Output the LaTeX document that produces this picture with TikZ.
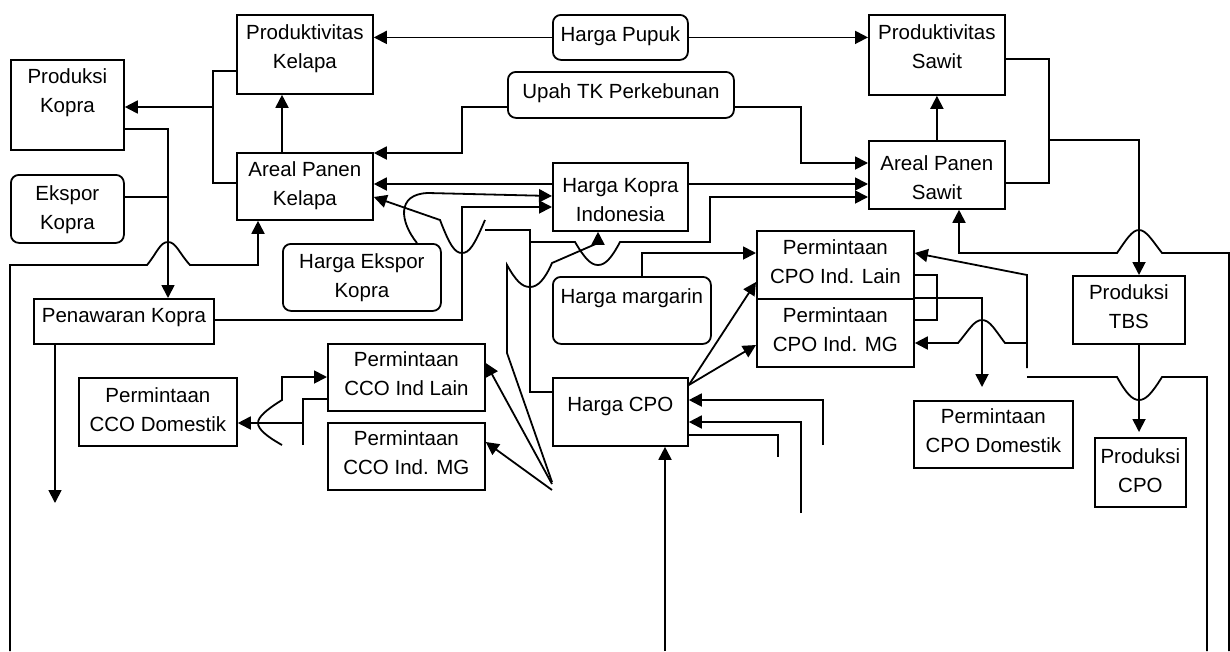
\documentclass[tikz,border=0pt]{standalone}
\usepackage{fontspec}
\setmainfont{Liberation Sans}
\usetikzlibrary{arrows.meta}

% kotak: [gaya]{nama}{x}{y}{lebar}{tinggi}{garis dasar}{teks}
\newcommand{\kotak}[8][kotak]{%
  \node[#1] (#2) at (#3,#4) {\parbox[c][#6pt][t]{#5pt}{\centering\rule{0pt}{#7pt}#8}};}

\begin{document}
\begin{tikzpicture}[x=1pt, y=-1pt, line width=1.8pt,
  kotak/.style={draw, inner sep=0pt, anchor=north west,
    font=\fontsize{20.5}{28.5}\selectfont},
  kotakbulat/.style={kotak, rounded corners=8pt},
  panah/.style={-{Triangle[length=13pt, width=13pt]}}]
  \useasboundingbox (0,0) rectangle (1230,651);

  % kelapa
  \kotak{pko}{10}{59}{113}{90}{24}{Produksi\\Kopra}
  \kotak[kotakbulat]{eko}{10}{174}{113}{68}{26}{Ekspor\\Kopra}
  \kotak{pkl}{236}{14}{136}{79}{25}{Produktivitas\\Kelapa}
  \kotak{apk}{236}{152}{136}{67}{24}{Areal Panen\\Kelapa}
  \kotak[kotakbulat]{hek}{282}{243}{158}{67}{25}{Harga Ekspor\\Kopra}
  \kotak{pnk}{33}{298}{180}{45}{24}{Penawaran Kopra}
  \kotak{ccl}{327}{343}{157}{67}{23}{Permintaan\\CCO Ind Lain}
  \kotak{ccm}{327}{422}{157}{67}{23}{Permintaan\\CCO Ind. MG}
  \kotak{ccd}{78}{377}{158}{68}{25}{Permintaan\\CCO Domestik}
  % harga
  \kotak[kotakbulat]{hpp}{552}{14}{135}{45}{27}{Harga Pupuk}
  \kotak[kotakbulat]{utk}{507}{71}{226}{46}{27}{Upah TK Perkebunan}
  \kotak{hki}{552}{162}{135}{68}{30}{Harga Kopra\\Indonesia}
  \kotak[kotakbulat]{hmg}{552}{276}{158}{67}{27}{Harga margarin}
  \kotak{hcp}{552}{377}{135}{68}{34}{Harga CPO}
  % sawit
  \kotak{pcl}{756}{230}{157}{68}{24}{Permintaan\\CPO Ind. Lain}
  \kotak{pcm}{756}{298}{157}{68}{24}{Permintaan\\CPO Ind. MG}
  \kotak{pks}{868}{14}{136}{80}{25}{Produktivitas\\Sawit}
  \kotak{aps}{868}{140}{136}{68}{30}{Areal Panen\\Sawit}
  \kotak{tbs}{1072}{275}{112}{68}{24}{Produksi\\TBS}
  \kotak{pcd}{913}{400}{159}{67}{23}{Permintaan\\CPO Domestik}
  \kotak{cpo}{1094}{437}{91}{69}{26}{Produksi\\CPO}

  % harga pupuk dan upah
  \draw[panah] (hpp.west) -- (pkl.east |- hpp.west);
  \draw[panah] (hpp.east) -- (pks.west |- hpp.east);
  \draw[panah] (utk.west |- 0,107) -- (462,107) -- (462,153) -- (apk.east |- 0,153);
  \draw[panah] (utk.east |- 0,107) -- (801,107) -- (801,163) -- (aps.west |- 0,163);
  \draw[panah] (apk.north -| 282,0) -- (pkl.south -| 282,0);
  \draw[panah] (aps.north) -- (pks.south);

  % produksi dan penawaran kopra
  \draw (pkl.west |- 0,71) -- (213,71) -- (213,183) -- (apk.west |- 0,183);
  \draw[panah] (213,107) -- (pko.east |- 0,107);
  \draw[panah] (pko.east |- 0,129) -- (168,129) -- (pnk.north -| 168,0);
  \draw (eko.east |- 0,197) -- (168,197);
  \draw[panah] (10,651) -- (10,265) -- (147,265) .. controls (157,253) and (160,242) .. (168,242)
    .. controls (176,242) and (179,253) .. (190,265) -- (258,265) -- (apk.south -| 258,0);
  \draw[panah] (pnk.south -| 55,0) -- (55,503);

  % harga kopra
  \draw[panah] (pnk.east |- 0,320) -- (462,320) -- (462,207) -- (hki.west |- 0,207);
  \draw[panah] (hki.west |- 0,184) -- (apk.east |- 0,184);
  \draw[panah] (hki.east |- 0,184) -- (aps.west |- 0,184);
  \draw[panah] (hek.north -| 417,0) .. controls (400,222) and (396,194) .. (428,193) -- (hki.west |- 0,196);

  % harga CPO ke areal panen
  \draw (hcp.west |- 0,392) -- (530,392) -- (530,230) -- (485,230);
  \draw[panah] (485,220) .. controls (474,246) and (469,253) .. (462,253)
    .. controls (455,253) and (450,246) .. (440,220) -- (apk.east |- 0,197);
  \draw[panah] (530,242) -- (575,242) .. controls (585,259) and (591,265) .. (598,265)
    .. controls (605,265) and (611,259) .. (620,242) -- (710,242) -- (710,197) -- (aps.west |- 0,197);

  % permintaan CCO
  \draw[panah] (552,482) -- (507,353) -- (507,265) .. controls (516,281) and (522,287) .. (530,287)
    .. controls (538,287) and (545,279) .. (552,263) -- (598,243) -- (hki.south -| 598,0);
  \draw[panah] (552,484) -- (ccl.east |- 0,363);
  \draw[panah] (552,490) -- (ccm.east |- 0,442);
  \draw (ccl.west |- 0,399) -- (303,399) -- (303,445);
  \draw[panah] (303,423) -- (ccd.east |- 0,423);
  \draw[panah] (282,445) .. controls (266,436) and (258,429) .. (258,423)
    .. controls (258,417) and (266,410) .. (282,400) -- (282,377) -- (ccl.west |- 0,377);

  % permintaan CPO
  \draw[panah] (hmg.north -| 642,0) -- (642,253) -- (pcl.west |- 0,253);
  \draw[panah] (hcp.east |- 0,385) -- (pcl.west |- 0,282);
  \draw[panah] (hcp.east |- 0,385) -- (pcm.west |- 0,345);
  \draw[panah] (823,445) -- (823,400) -- (hcp.east |- 0,400);
  \draw[panah] (801,513) -- (801,422) -- (hcp.east |- 0,422);
  \draw (hcp.east |- 0,435) -- (778,435) -- (778,457);
  \draw[panah] (665,651) -- (hcp.south -| 665,0);
  \draw (pcl.east |- 0,275) -- (937,275) -- (937,320) -- (pcm.east |- 0,320);
  \draw[panah, shorten >=13pt] (pcl.east |- 0,298) -- (982,298) -- (pcd.north -| 982,0);
  \draw[panah] (1027,343) -- (1005,343) .. controls (995,330) and (990,320) .. (982,320)
    .. controls (974,320) and (969,330) .. (958,343) -- (pcm.east |- 0,343);
  \draw[panah] (1027,368) -- (1027,275) -- (pcl.east |- 0,253);
  \draw (1207,651) -- (1207,377) -- (1162,377) .. controls (1152,393) and (1146,400) .. (1139,400)
    .. controls (1132,400) and (1126,393) .. (1117,377) -- (1027,377);

  % sawit
  \draw (pks.east |- 0,59) -- (1049,59) -- (1049,183) -- (aps.east |- 0,183);
  \draw[panah] (1049,140) -- (1139,140) -- (tbs.north -| 1139,0);
  \draw[panah] (1229,651) -- (1229,253) -- (1162,253) .. controls (1152,240) and (1146,230) .. (1139,230)
    .. controls (1132,230) and (1126,240) .. (1117,253) -- (959,253) -- (aps.south -| 959,0);
  \draw[panah, shorten >=5pt] (tbs.south -| 1139,0) -- (cpo.north -| 1139,0);
\end{tikzpicture}
\end{document}
